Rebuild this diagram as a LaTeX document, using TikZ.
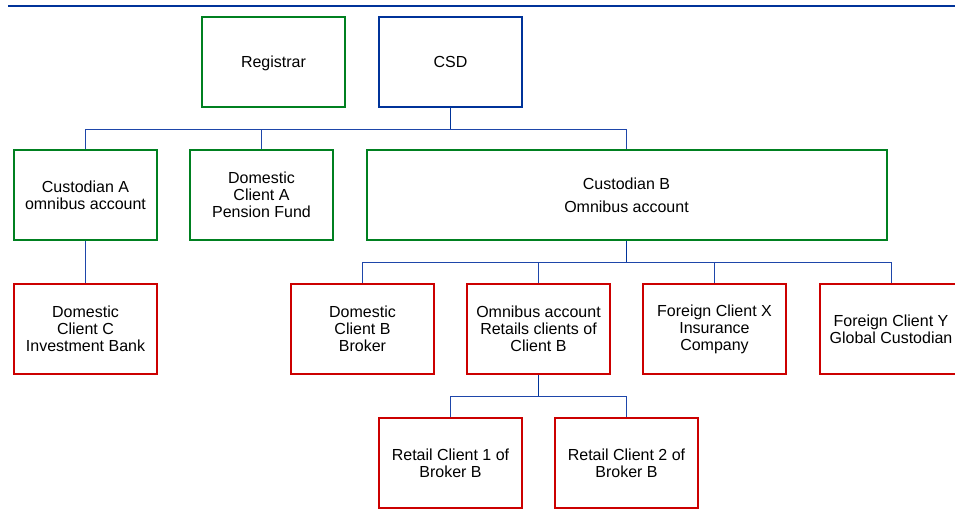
\documentclass[tikz,border=0pt]{standalone}
\usepackage{fontspec}
\setmainfont{Liberation Sans}
\definecolor{bxgreen}{RGB}{0,128,32}
\definecolor{bxred}{RGB}{204,0,0}
\definecolor{bxblue}{RGB}{0,51,153}
\definecolor{cnblue}{RGB}{30,70,170}
\begin{document}
\begin{tikzpicture}[x=1pt,y=-1pt,
  box/.style={draw,line width=2pt,minimum width=143pt,minimum height=90pt,
    inner sep=0pt,align=center,font=\fontsize{16}{17}\selectfont},
  gbox/.style={box,draw=bxgreen},
  rbox/.style={box,draw=bxred},
  bbox/.style={box,draw=bxblue},
  conn/.style={draw=cnblue,line width=1pt},
  stub/.style={draw=bxblue,line width=1.3pt}]
\useasboundingbox (0,0) rectangle (955,517);
\clip (0,0) rectangle (955,517);
\coordinate (tl) at (8,6);
\coordinate (tr) at (955,6);
\draw[draw=bxblue,line width=2pt] (tl) -- (tr);
\node[gbox] (reg) at (273.5,61.5) {\raisebox{-2pt}[12pt][5pt]{Registrar}};
\node[bbox] (csd) at (450.5,61.5) {\raisebox{-2pt}[12pt][5pt]{CSD}};
\node[gbox] (custA) at (85.5,195) {Custodian A\\omnibus account};
\node[gbox] (domA) at (261.5,195) {Domestic\\Client A\\Pension Fund};
\node[gbox,minimum width=520pt] (custB) at (626.5,195) {Custodian B\\[6pt]Omnibus account};
\node[rbox] (domC) at (85.5,329) {Domestic\\Client C\\Investment Bank};
\node[rbox] (domB) at (362.5,329) {Domestic\\Client B\\Broker};
\node[rbox] (omni) at (538.5,329) {Omnibus account\\Retails clients of\\Client B};
\node[rbox] (forX) at (714.5,329) {Foreign Client X\\Insurance\\Company};
\node[rbox] (forY) at (891,329) {Foreign Client Y\\Global Custodian};
\node[rbox] (ret1) at (450.5,463) {Retail Client 1 of\\Broker B};
\node[rbox] (ret2) at (626.5,463) {Retail Client 2 of\\Broker B};
\coordinate (b1) at (0,129);
\coordinate (b2) at (0,262);
\coordinate (b3) at (0,396);
% level 1
\draw[stub] (csd.south) -- (csd.south |- b1);
\draw[conn] (custA.north) -- (custA.north |- b1) -- (custB.north |- b1) -- (custB.north);
\draw[conn] (domA.north) -- (domA.north |- b1);
% custodian A
\draw[conn] (custA.south) -- (domC.north);
% custodian B
\draw[stub] (custB.south) -- (custB.south |- b2);
\draw[conn] (domB.north) -- (domB.north |- b2) -- (forY.north |- b2) -- (forY.north);
\draw[conn] (omni.north) -- (omni.north |- b2);
\draw[conn] (forX.north) -- (forX.north |- b2);
% omnibus
\draw[stub] (omni.south) -- (omni.south |- b3);
\draw[conn] (ret1.north) -- (ret1.north |- b3) -- (ret2.north |- b3) -- (ret2.north);
\end{tikzpicture}
\end{document}
